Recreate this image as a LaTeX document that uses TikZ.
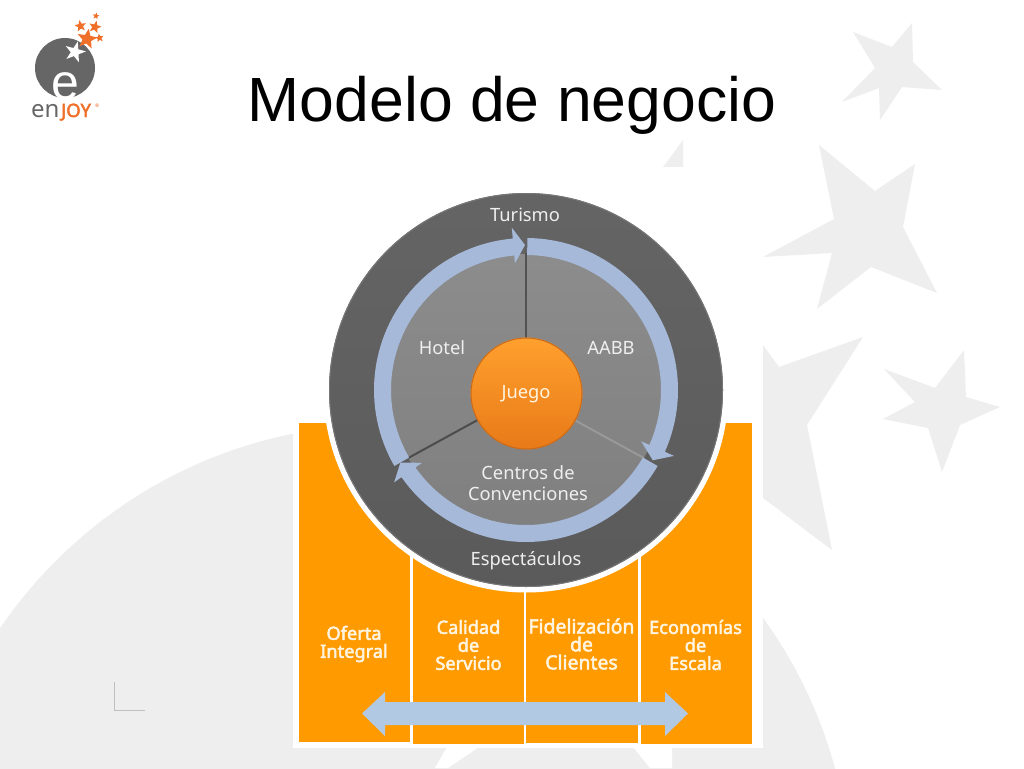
\documentclass[tikz,border=0pt]{standalone}
\usepackage{fontspec}
\usetikzlibrary{shapes.geometric,shapes.arrows}
\setmainfont{Liberation Sans}
\newfontfamily\diafont{Noto Sans}
\newfontfamily\diabold[FakeBold=2.6]{Noto Sans}
\newcommand{\dsize}[2]{\fontsize{#1}{#2}\selectfont}
\definecolor{bgray}{HTML}{EEEEEE}
\definecolor{orng}{HTML}{FF9A00}
\definecolor{ballTop}{HTML}{FFA02E}
\definecolor{ballBot}{HTML}{E87A18}
\definecolor{ballRim}{HTML}{C96A1A}
\definecolor{ringblue}{HTML}{A6B9D9}
\definecolor{barblue}{HTML}{B2C9E4}
\definecolor{ringdark}{HTML}{5E5E5E}
\definecolor{logogray}{HTML}{666666}
\definecolor{logoorange}{HTML}{F0702A}
\definecolor{labelw}{HTML}{EFEFEF}
\definecolor{panelw}{HTML}{FFF4DF}
\newcommand{\ringarrow}[5]{% start, barb angle, tip angle, barb inner radius, barb outer radius
  \fill[ringblue] plot[domain=#1:#2,samples=50] ({526+152*cos(\x)},{390+152*sin(\x)})
    -- ({526+#5*cos(#2)},{390+#5*sin(#2)})
    -- ({526+145*cos(#3)},{390+145*sin(#3)})
    -- ({526+#4*cos(#2)},{390+#4*sin(#2)})
    -- plot[domain=#2:#1,samples=50] ({526+135*cos(\x)},{390+135*sin(\x)}) -- cycle;}
\tikzset{
  bgshape/.style={fill=bgray,draw=none},
  panel/.style={fill=orng,draw=none},
  dlabel/.style={text=labelw,font=\diafont\dsize{18.3}{21},align=center,inner sep=0pt},
  plabel/.style={text=panelw,font=\diabold\dsize{18.2}{18},align=center,inner sep=0pt},
  logostar/.style={star,star points=5,star point ratio=2.3,fill=logoorange,draw=none,inner sep=0pt}
}
\begin{document}
\begin{tikzpicture}[x=1pt,y=-1pt]
\useasboundingbox (0,0) rectangle (1024,768);
\fill[white] (0,0) rectangle (1024,768);
% background
\begin{scope}
\clip (0,0) rectangle (1024,768);
\fill[bgshape] (385.2,890.6) circle (466);
\end{scope}
\fill[bgshape] (853,32)--(892,47)--(912,23)--(913,62)--(942,90)--(902,87)--(880,120)--(879,88)--(842,102)--(875,68)--cycle;
\fill[bgshape] (819,145)--(875,191)--(915,164)--(903,227)--(937,293)--(871,267)--(817,309)--(832,253)--(763,257)--(834,219)--cycle;
\fill[bgshape] (884,369)--(935,388)--(964,350)--(966,397)--(1000,407)--(960,425)--(942,472)--(928,428)--(883,419)--(915,402)--cycle;
\fill[bgshape] (683,140)--(683,167)--(663,167)--cycle;
\fill[bgshape] (763,345)--(779,367)--(863,337)--(807,425)--(832,550)--(763,498)--cycle;
\fill[white] (293,167) rectangle (763,748);
\fill[white] (447,747)--(479,747)--(448,768)--(435,768)--cycle;
\fill[white] (633,747)--(672,747)--(672,768)--(650,768)--cycle;
\draw[color=black!25,line width=1pt] (114.5,682)--(114.5,710.5)--(145,710.5);
% logo
\fill[logogray] (65,68) circle (30);
\node[star,star points=5,star point ratio=2.6,fill=white,inner sep=0pt,minimum size=22pt,rotate=-15] (whitestar) at (75,52) {};
\node[logostar,minimum size=21pt,rotate=-10] (star1) at (87,39) {};
\node[logostar,minimum size=12pt,rotate=10] (star2) at (80.5,26) {};
\node[logostar,minimum size=13pt,rotate=-15] (star3) at (95,27) {};
\node[logostar,minimum size=9pt,rotate=10] (star4) at (99.5,38) {};
\node[logostar,minimum size=7pt,rotate=-10] (star5) at (96,16) {};
\node[text=white,font=\fontsize{50}{50}\selectfont,inner sep=0pt,anchor=base] (loge) at (65.5,99) {e};
\node[anchor=base west,inner sep=0pt,text=logogray,font=\diafont\dsize{24}{24}] (logot) at (31,117) {en};
\node[anchor=base west,inner sep=0pt,text=logoorange,font=\diabold\dsize{18.5}{18}] (logoj) at (61,117) {JOY};
\node[anchor=base west,inner sep=0pt,text=logoorange,font=\diafont\dsize{5}{5}] (logor) at (95,107) {®};
% title
\node[anchor=base,inner sep=0pt,font=\dsize{62.5}{62},text=black] (title) at (512,121) {Modelo de negocio};
% panels
\fill[panel] (299,423) rectangle (410,742);
\fill[panel] (413,480) rectangle (524,744);
\fill[panel] (526,480) rectangle (638,743);
\fill[panel] (641,423) rectangle (752,744);
\fill[white] (526,390) circle (202.5);
% wheel
\shade[top color=ringdark!96!white,bottom color=ringdark!96!black] (526,390) circle (197);
\draw[ringdark!85!white,line width=1pt] (526,390) circle (196.5);
\shade[top color=black!45,bottom color=black!50] (526,390) circle (136);
\coordinate (hub) at (526,393.5);
\coordinate (spokeA) at (526,253);
\coordinate (spokeB) at ({526+136*cos(30)},{390+136*sin(30)});
\coordinate (spokeC) at ({526+136*cos(150)},{390+136*sin(150)});
\draw[black!68,line width=2pt] (hub)--(spokeA);
\draw[black!40,line width=2pt] (hub)--(spokeB);
\draw[black!70,line width=2pt] (hub)--(spokeC);
\ringarrow{-89.5}{24}{29}{126}{162}
\ringarrow{30}{145}{150}{127}{161}
\ringarrow{150}{265}{269.6}{127}{163}
\shade[top color=ballTop,bottom color=ballBot] (526.5,393.5) circle (56);
\draw[ballRim,line width=1pt] (526.5,393.5) circle (55.5);
\node[dlabel] (turismo) at (525,214.5) {Turismo};
\node[dlabel] (hotel) at (442,348) {Hotel};
\node[dlabel] (aabb) at (611,348) {AABB};
\node[dlabel,text=panelw] (juego) at (526,394.5) {Juego};
\node[dlabel] (centros) at (528,483.5) {Centros de\\Convenciones};
\node[dlabel] (espect) at (526,561) {Espectáculos};
% bar arrow
\coordinate (barL) at (362,713.5);
\coordinate (barR) at (688,713.5);
\fill[barblue] (barL)--(385,692)--(385,702)--(665,702)--(665,692)--(barR)--(665,736)--(665,725)--(385,725)--(385,736)--cycle;
\node[plabel] (p1) at (354,644) {Oferta\\Integral};
\node[plabel] (p2) at (468.5,645) {Calidad\\de\\Servicio};
\node[plabel,font=\diabold\dsize{19.4}{18}] (p3) at (581.5,644) {Fidelización\\de\\Clientes};
\node[plabel] (p4) at (695.5,645) {Economías\\de\\Escala};
\end{tikzpicture}
\end{document}
